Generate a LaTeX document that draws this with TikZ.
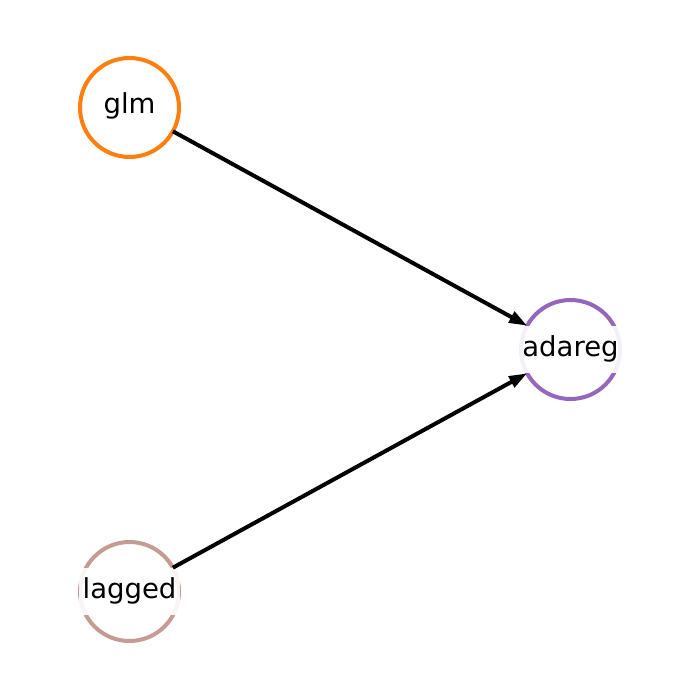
\documentclass[tikz,border=0pt]{standalone}
\usepackage{fontspec}
\setmainfont{DejaVu Sans}
\usetikzlibrary{arrows.meta}
\definecolor{cglm}{HTML}{FF7F0E}
\definecolor{cada}{HTML}{9467BD}
\definecolor{clag}{HTML}{C49C94}
\begin{document}
\begin{tikzpicture}[x=1pt,y=-1pt,
  vertex/.style={circle,draw,line width=4pt,minimum size=99pt,inner sep=0pt,outer sep=0pt},
  tag/.style={fill=white,fill opacity=0.9,text opacity=1,font=\fontsize{27.5}{30}\selectfont,
    inner xsep=4pt,inner ysep=10pt,text height=20pt,text depth=7pt},
  edge/.style={line width=4pt,-{Triangle[length=18pt,width=12pt]}}]
  \useasboundingbox[fill=white] (0,0) rectangle (700,700);
  \node[vertex,draw=cglm] (glm) at (129.5,107.5) {};
  \node[vertex,draw=cada] (adareg) at (570.5,349.5) {};
  \node[vertex,draw=clag] (lagged) at (129.5,591.5) {};
  \node[tag] (tglm) at (glm) {glm};
  \node[tag] (tada) at (adareg) {adareg};
  \node[tag] (tlag) at (lagged) {lagged};
  \draw[edge] (glm) -- (adareg);
  \draw[edge] (lagged) -- (adareg);
\end{tikzpicture}
\end{document}
